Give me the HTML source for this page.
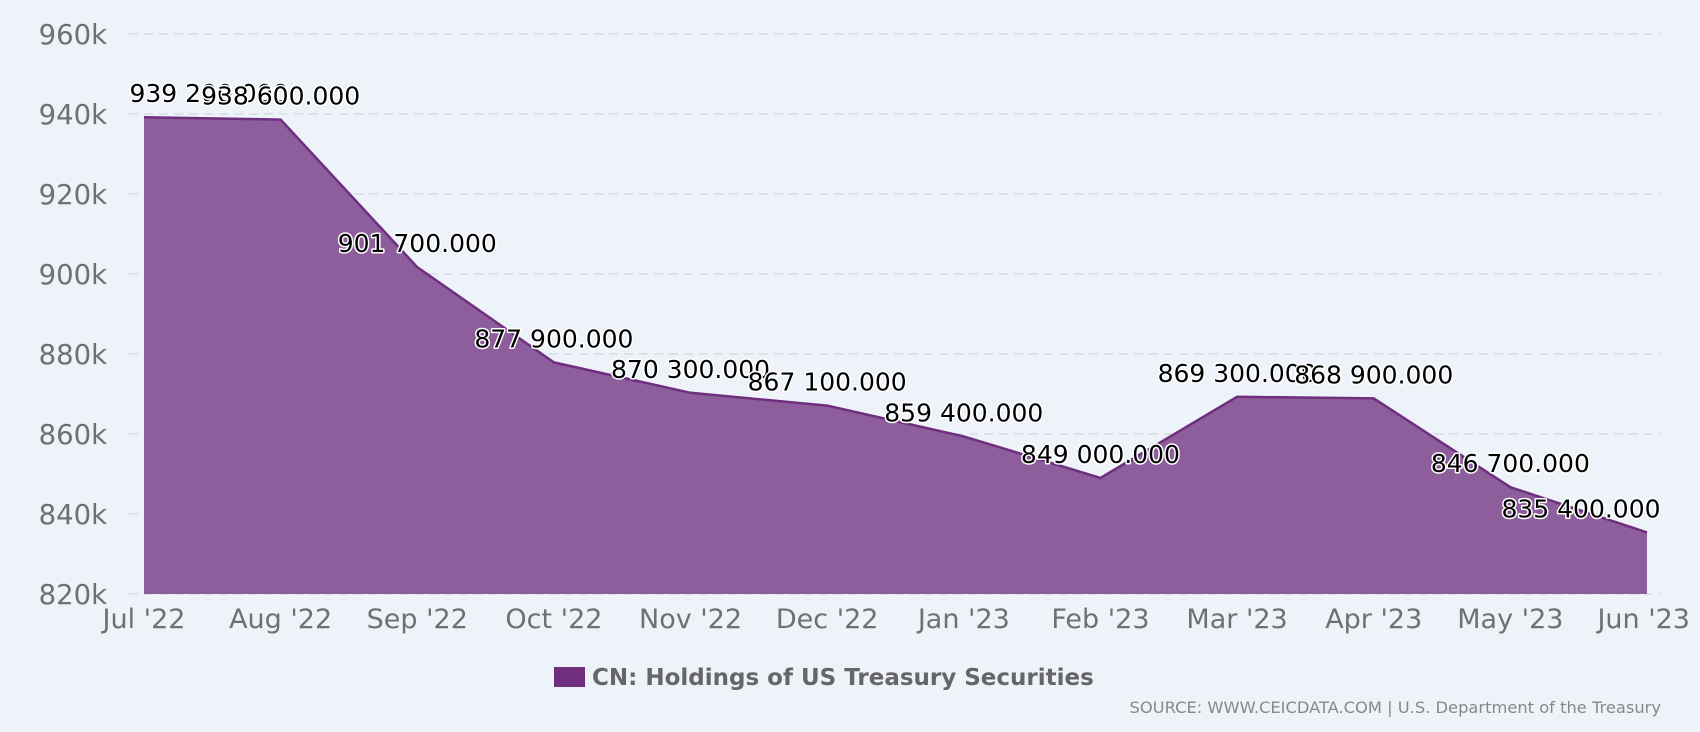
<!DOCTYPE html>
<html><head><meta charset="utf-8"><style>
body{margin:0;background:#eef3f9;}
svg{display:block;font-family:"DejaVu Sans","Liberation Sans",sans-serif;}
</style></head><body>
<svg id="c" width="1700" height="732">
<rect width="1700" height="732" fill="#eef3f9"/>
<g id="grid"></g><g id="area"></g><g id="labels"></g><g id="xaxis"></g>
<g>
<rect x="554" y="667" width="31" height="20" fill="#6f2f7f"/>
<text x="592" y="685" font-size="23" font-weight="bold" fill="#666">CN: Holdings of US Treasury Securities</text>
</g>
<text x="1661" y="713" font-size="16.3" fill="#888" text-anchor="end">SOURCE: WWW.CEICDATA.COM | U.S. Department of the Treasury</text>
</svg>
<script>
const categories=["Jul '22","Aug '22","Sep '22","Oct '22","Nov '22","Dec '22","Jan '23","Feb '23","Mar '23","Apr '23","May '23","Jun '23"];
const values=[939.2,938.6,901.7,877.9,870.3,867.1,859.4,849.0,869.3,868.9,846.7,835.4];
const valueLabels=["939 200.000","938 600.000","901 700.000","877 900.000","870 300.000","867 100.000","859 400.000","849 000.000","869 300.000","868 900.000","846 700.000","835 400.000"];
const yTicks=[820,840,860,880,900,920,940,960];
const NS="http://www.w3.org/2000/svg";
const x0=144,x1=1647,yMin=820,yMax=960,yB=594,yT=34;
const xs=i=>x0+i*(x1-x0)/(categories.length-1);
const ys=v=>yB-(v-yMin)/(yMax-yMin)*(yB-yT);
function mk(t,p,a){const e=document.createElementNS(NS,t);for(const k in a)e.setAttribute(k,a[k]);p.appendChild(e);return e;}
const grid=document.getElementById('grid');
yTicks.forEach(t=>{
 const l=mk('line',grid,{x1:129,x2:1661,y1:ys(t),y2:ys(t),stroke:'#d5dbe2','stroke-width':1.5,'stroke-dasharray':'9,6'});
 
 
 const tx=mk('text',grid,{x:107,y:ys(t)+10,'font-size':27.5,fill:'#707070','text-anchor':'end'});
 tx.textContent=t+'k';
 
 
});
const area=document.getElementById('area');
let d='M'+xs(0)+','+yB;values.forEach((v,i)=>d+=' L'+xs(i)+','+ys(v));d+=' L'+xs(values.length-1)+','+yB+'Z';
const a=mk('path',area,{d:d,fill:'#8d5e9b'});


const ln=mk('polyline',area,{points:values.map((v,i)=>xs(i)+','+ys(v)).join(' '),fill:'none',stroke:'#6f2f7f','stroke-width':2.5});


const lab=document.getElementById('labels');
values.forEach((v,i)=>{
 let cx=xs(i);const w=158;
 if(cx-w/2<130)cx=130+w/2;
 if(cx+w/2>1660)cx=1660-w/2;
 const t=mk('text',lab,{x:cx,y:ys(v)-15,'font-size':25,fill:'#000','text-anchor':'middle',stroke:'#fff','stroke-width':3,'paint-order':'stroke','stroke-linejoin':'round'});
 t.textContent=valueLabels[i];
 
 
});
const xa=document.getElementById('xaxis');
categories.forEach((c,i)=>{
 const t=mk('text',xa,{x:xs(i),y:628,'font-size':27,fill:'#707070','text-anchor':'middle'});
 if(i===categories.length-1){t.setAttribute('text-anchor','end');t.setAttribute('x',1690);}
 t.textContent=c;
 
 
});
</script>
</body></html>
